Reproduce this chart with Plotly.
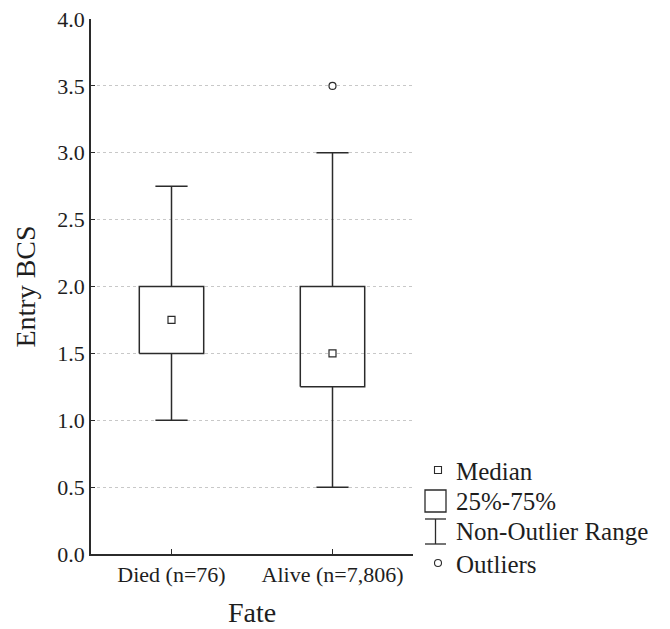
import plotly.graph_objects as go

categories = ["Died (n=76)", "Alive (n=7,806)"]
medians = [1.75, 1.5]
q1 = [1.5, 1.25]
q3 = [2.0, 2.0]
whisk_lo = [1.0, 0.5]
whisk_hi = [2.75, 3.0]
outlier_cat = [1]
outlier_val = [3.5]
y_ticks = [0.0, 0.5, 1.0, 1.5, 2.0, 2.5, 3.0, 3.5, 4.0]
legend_labels = ["Median", "25%-75%", "Non-Outlier Range", "Outliers"]

LINE = "#2b2b2b"
TXT = "#1e1e1e"
FONT = "Liberation Serif"
BW = 0.2   # half box width
CW = 0.1   # half cap width

fig = go.Figure()

for i, c in enumerate(categories):
    fig.add_trace(go.Scatter(
        x=[i, i, None, i, i, None, i - CW, i + CW, None, i - CW, i + CW],
        y=[q3[i], whisk_hi[i], None, q1[i], whisk_lo[i], None,
           whisk_hi[i], whisk_hi[i], None, whisk_lo[i], whisk_lo[i]],
        mode="lines", line=dict(color=LINE, width=1.5), hoverinfo="skip",
        showlegend=False))
    fig.add_trace(go.Scatter(
        x=[i - BW, i + BW, i + BW, i - BW, i - BW],
        y=[q1[i], q1[i], q3[i], q3[i], q1[i]],
        mode="lines", line=dict(color=LINE, width=1.5), showlegend=False))

fig.add_trace(go.Scatter(
    x=list(range(len(categories))), y=medians, mode="markers",
    marker=dict(symbol="square", size=7, color="white",
                line=dict(color=LINE, width=1.2)), showlegend=False))
fig.add_trace(go.Scatter(
    x=outlier_cat, y=outlier_val, mode="markers",
    marker=dict(symbol="circle", size=7, color="white",
                line=dict(color=LINE, width=1.2)), showlegend=False))

# page has an 8px body margin; plot area in page px: x 91..413, y 19..554
OFF = 8
L, T, H = 91 - OFF, 19 - OFF, 535
W = 322
def px(xp):
    return (xp - OFF - L) / W
def py(yp):
    return (T + H - (yp - OFF)) / H

ln = dict(color=LINE, width=1.3)
shapes = [
    dict(type="rect", xref="paper", yref="paper", x0=px(434.5), x1=px(441.5),
         y0=py(473.5), y1=py(466.5), line=dict(color=LINE, width=1.1)),
    dict(type="rect", xref="paper", yref="paper", x0=px(425), x1=px(446),
         y0=py(512), y1=py(490), line=ln),
    dict(type="line", xref="paper", yref="paper", x0=px(425), x1=px(446),
         y0=py(519), y1=py(519), line=ln),
    dict(type="line", xref="paper", yref="paper", x0=px(425), x1=px(446),
         y0=py(544), y1=py(544), line=ln),
    dict(type="line", xref="paper", yref="paper", x0=px(435.5), x1=px(435.5),
         y0=py(519), y1=py(544), line=ln),
    dict(type="circle", xref="paper", yref="paper", x0=px(434.5), x1=px(441.5),
         y0=py(566.5), y1=py(559.5), line=dict(color=LINE, width=1.1)),
]

legend_y = [471, 501, 531, 564]
annotations = []
for lab, yy in zip(legend_labels, legend_y):
    annotations.append(dict(text=lab, xref="paper", yref="paper", x=px(454),
                            y=py(yy), xanchor="left", yanchor="middle",
                            showarrow=False, font=dict(family=FONT, size=25, color=TXT)))

fig.update_layout(
    width=670, height=629,
    margin=dict(l=L, r=670 - L - W, t=T, b=629 - T - H, autoexpand=False),
    plot_bgcolor="white", paper_bgcolor="white",
    font=dict(family=FONT, color=TXT),
    shapes=shapes, annotations=annotations,
    xaxis=dict(range=[-0.5, 1.5], tickvals=list(range(len(categories))),
               ticktext=categories, showgrid=False, zeroline=False,
               showline=True, linecolor=LINE, linewidth=1.5, automargin=False,
               ticks="inside", ticklen=5, tickcolor=LINE, tickwidth=1.2,
               tickfont=dict(family=FONT, size=22, color=TXT),
               title=dict(text="Fate", font=dict(family=FONT, size=28, color=TXT),
                          standoff=16)),
    yaxis=dict(range=[0, 4], tickvals=y_ticks,
               ticktext=[f"{v:.1f}" for v in y_ticks],
               showgrid=True, gridcolor="#c8c8c8", griddash="dot", gridwidth=1,
               zeroline=False, showline=True, linecolor=LINE, linewidth=1.5,
               automargin=False, ticklabeloverflow="allow",
               ticks="inside", ticklen=4, tickcolor=LINE, tickwidth=1.2,
               tickfont=dict(family=FONT, size=22, color=TXT),
               title=dict(text="Entry BCS", font=dict(family=FONT, size=28, color=TXT),
                          standoff=14)),
)

fig.write_html("out.html")
